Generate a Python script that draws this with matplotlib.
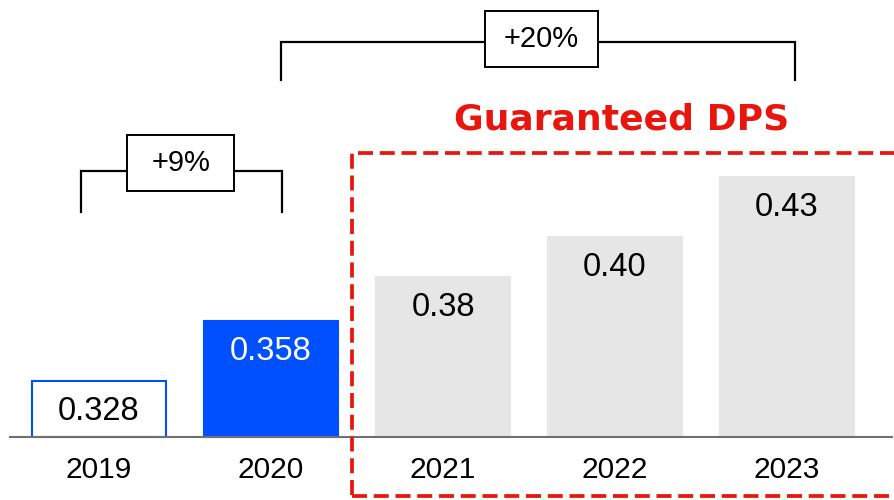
import matplotlib
matplotlib.use('Agg')
from matplotlib import pyplot as plt
from matplotlib.patches import Rectangle

# data
years = ['2019', '2020', '2021', '2022', '2023']
dps = [0.328, 0.358, 0.38, 0.40, 0.43]
labels = ['0.328', '0.358', '0.38', '0.40', '0.43']

plt.rcParams['font.family'] = ['Liberation Sans', 'DejaVu Sans']

fig = plt.figure(figsize=(8.95, 5), dpi=100)
ax = fig.add_axes([0, 0, 1, 1])
base = 0.30
ax.set_xlim(-0.576, 4.628)
ax.set_ylim(0.2685, 0.5185)
ax.axis('off')

blue = '#0050ff'
grey = '#e6e6e6'
x = list(range(len(years)))
heights = [v - base for v in dps]
face = ['white', blue, grey, grey, grey]
edge = [blue, blue, grey, grey, grey]
ax.bar(x, heights, bottom=base, width=0.775, color=face, edgecolor=edge,
       linewidth=1.5, zorder=2)

# baseline
ax.plot([-0.52, 4.61], [base, base], color='#707070', lw=1.5, zorder=3)

for i, v in enumerate(dps):
	c = 'white' if i == 1 else 'black'
	ax.text(i, v - 0.0155, labels[i], ha='center', va='center',
		fontsize=23.5, color=c, zorder=4)
	ax.text(i, 0.2835, years[i], ha='center', va='center', fontsize=21.5)

# growth brackets
def bracket(x0, x1, y, ybot, bx0, bx1, by0, by1, txt):
	ax.plot([x0, x0, x1, x1], [ybot, y, y, ybot], color='black', lw=1.6,
		solid_joinstyle='miter', zorder=3)
	ax.add_patch(Rectangle((bx0, by0), bx1 - bx0, by1 - by0, facecolor='white',
		edgecolor='black', lw=1.4, zorder=4))
	ax.text((bx0 + bx1) / 2, (by0 + by1) / 2, txt, ha='center', va='center',
		fontsize=21, zorder=5)

bracket(-0.105, 1.064, 0.433, 0.4125, 0.163, 0.785, 0.423, 0.451, '+9%')
bracket(1.058, 4.047, 0.4975, 0.4785, 2.244, 2.901, 0.485, 0.513, '+20%')

# guaranteed box
ax.add_patch(Rectangle((1.471, 0.2705), 4.0, 0.1715, fill=False,
	edgecolor='#e8160c', lw=2.7, linestyle=(0, (4, 1.8)), zorder=5))
ax.text(3.04, 0.4585, 'Guaranteed DPS', ha='center', va='center',
	fontsize=26, fontweight='bold', color='#e8160c', family='DejaVu Sans')

fig.savefig('out.png', dpi=100)
